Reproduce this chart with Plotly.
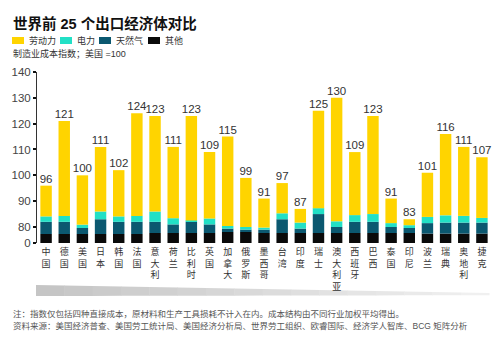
import plotly.graph_objects as go

# ---- data -------------------------------------------------------------
countries = ["中国", "德国", "美国", "日本", "韩国", "法国", "意大利", "荷兰", "比利时",
             "英国", "加拿大", "俄罗斯", "墨西哥", "台湾", "印度", "瑞士", "澳大利亚",
             "西班牙", "巴西", "泰国", "印尼", "波兰", "瑞典", "奥地利", "捷克"]

other = [45, 45, 45, 45, 45, 45, 50, 50, 50, 50, 55, 55, 50, 50, 50, 50, 50,
         50, 50, 50, 50, 47, 47, 47, 47]
gas = [37, 37, 30, 38, 37, 37, 32, 31, 32, 31, 17, 12, 17, 33, 22, 35, 30,
       32, 32, 30, 25, 34.5, 34.7, 34.7, 34.7]
electricity = [2.1, 2.3, 5.9, 3.0, 2.1, 2.3, 4.0, 2.4, 0.5, 2.3, 8.4, 13, 10,
               2.3, 9.7, 2.3, 2.2, 2.6, 3.0, 1.5, 5.7, 2.4, 2.8, 2.6, 1.8]
labor = [11.9, 36.7, 19.1, 25.0, 17.9, 39.7, 37.0, 27.6, 40.5, 25.7, 34.6, 19.0,
         14.0, 11.7, 5.3, 37.7, 47.8, 24.4, 38.0, 9.5, 2.3, 17.1, 31.5, 26.7, 23.5]

series_names = ["劳动力", "电力", "天然气", "其他"]
series_colors = ["#FFD400", "#22E0C6", "#0B5870", "#0A0A0A"]

y_tick_values = [0, 80, 90, 100, 110, 120, 130, 140]

title_text = "世界前 25 个出口经济体对比"
subtitle_text = "制造业成本指数；美国 =100"
note_lines = [
    "注：指数仅包括四种直接成本，原材料和生产工具损耗不计入在内。成本结构由不同行业加权平均得出。",
    "资料来源：美国经济普查、美国劳工统计局、美国经济分析局、世界劳工组织、欧睿国际、经济学人智库、BCG 矩阵分析",
]

# ---- broken value axis: 0–80 squeezed into a short band -------------
BREAK = 80
LOW_SPAN = 6.2


def scale(v):
    return v * LOW_SPAN / BREAK if v <= BREAK else LOW_SPAN + (v - BREAK)


FONT = "Liberation Sans, Arial, Noto Sans CJK SC, sans-serif"
CJK = "Noto Sans CJK SC, sans-serif"

W, H = 500, 345
ML, MR, MT, MB = 37, 9, 72, 102
PW, PH = W - ML - MR, H - MT - MB


def px(xp):
    return (xp - ML) / PW


def py(yp):
    return (H - MB - yp) / PH


fig = go.Figure()

# stacked from the bottom: other, gas, electricity, labor
stack = [(other, 3), (gas, 2), (electricity, 1), (labor, 0)]
cum = [0.0] * len(countries)
for values, idx in stack:
    lo = cum[:]
    hi = [a + b for a, b in zip(cum, values)]
    fig.add_trace(go.Bar(
        x=countries,
        y=[scale(h) - scale(l) for l, h in zip(lo, hi)],
        base=[scale(l) for l in lo],
        marker=dict(color=series_colors[idx], line=dict(width=0)),
        name=series_names[idx],
        showlegend=False,
        hoverinfo="skip",
    ))
    cum = hi

totals = [round(c) for c in cum]
fig.add_trace(go.Scatter(
    x=countries,
    y=[scale(t) for t in totals],
    mode="text",
    text=[str(t) for t in totals],
    textposition="top center",
    textfont=dict(family=FONT, size=11.5, color="#333"),
    cliponaxis=False,
    showlegend=False,
    hoverinfo="skip",
))

annotations = []
shapes = []

# title, subtitle, legend
annotations.append(dict(
    x=px(11), y=py(23), xref="paper", yref="paper", text=title_text,
    showarrow=False, xanchor="left", yanchor="middle",
    font=dict(family=FONT, size=14.5, color="#111", weight="bold"),
))
annotations.append(dict(
    x=px(11), y=py(54), xref="paper", yref="paper", text=subtitle_text,
    showarrow=False, xanchor="left", yanchor="middle",
    font=dict(family=FONT, size=9, color="#333"),
))

legend_x = [12, 60, 99, 148]
for name, color, lx in zip(series_names, series_colors, legend_x):
    shapes.append(dict(
        type="rect", xref="paper", yref="paper",
        x0=px(lx), x1=px(lx + 12), y0=py(44), y1=py(37),
        fillcolor=color, line=dict(width=0),
    ))
    annotations.append(dict(
        x=px(lx + 15), y=py(40.5), xref="paper", yref="paper", text=name,
        showarrow=False, xanchor="left", yanchor="middle",
        font=dict(family=FONT, size=9, color="#333"),
    ))

# footnotes
for i, line in enumerate(note_lines):
    annotations.append(dict(
        x=px(11), y=py(314 + i * 12), xref="paper", yref="paper", text=line,
        showarrow=False, xanchor="left", yanchor="middle",
        font=dict(family=FONT, size=8.5, color="#555"),
    ))

# tapering grey shadow under the category labels
n_slices = 16
x_left, x_right = 36, 489
for k in range(n_slices):
    f0, f1 = k / n_slices, (k + 1) / n_slices
    xa, xb = x_left + (x_right - x_left) * f0, x_left + (x_right - x_left) * f1
    ta, tb = 285 + 8 * f0, 285 + 8 * f1
    ba, bb = 296 - 0.8 * f0, 296 - 0.8 * f1
    g = int(196 + (242 - 196) * (f0 + f1) / 2)
    path = (f"M {px(xa)} {py(ta)} L {px(xb + 0.5)} {py(tb)} "
            f"L {px(xb + 0.5)} {py(bb)} L {px(xa)} {py(ba)} Z")
    shapes.append(dict(
        type="path", xref="paper", yref="paper", path=path,
        fillcolor=f"rgb({g},{g},{g})", line=dict(width=0), layer="below",
    ))

fig.update_layout(
    width=W, height=H,
    margin=dict(l=ML, r=MR, t=MT, b=MB),
    paper_bgcolor="white", plot_bgcolor="white",
    barmode="overlay", bargap=0.37,
    font=dict(family=FONT),
    annotations=annotations,
    shapes=shapes,
    xaxis=dict(
        range=[-0.5, len(countries) - 0.5],
        tickmode="array",
        tickvals=countries,
        # category names written vertically, one character per line
        ticktext=["<br>".join(name) for name in countries],
        tickangle=0,
        tickfont=dict(family=CJK, size=9, color="#333"),
        ticklabelstandoff=2,
        showline=False, showgrid=False,
        zeroline=False, ticks="", fixedrange=True,
    ),
    yaxis=dict(
        range=[0, scale(140)],
        tickvals=[scale(v) for v in y_tick_values],
        ticktext=[str(v) for v in y_tick_values],
        showline=True, linecolor="#333", linewidth=1,
        ticks="outside", ticklen=3, tickwidth=2, tickcolor="#111",
        tickfont=dict(family=FONT, size=11.5, color="#444"),
        showgrid=False, zeroline=False, fixedrange=True,
    ),
)

fig.write_html("out.html")
